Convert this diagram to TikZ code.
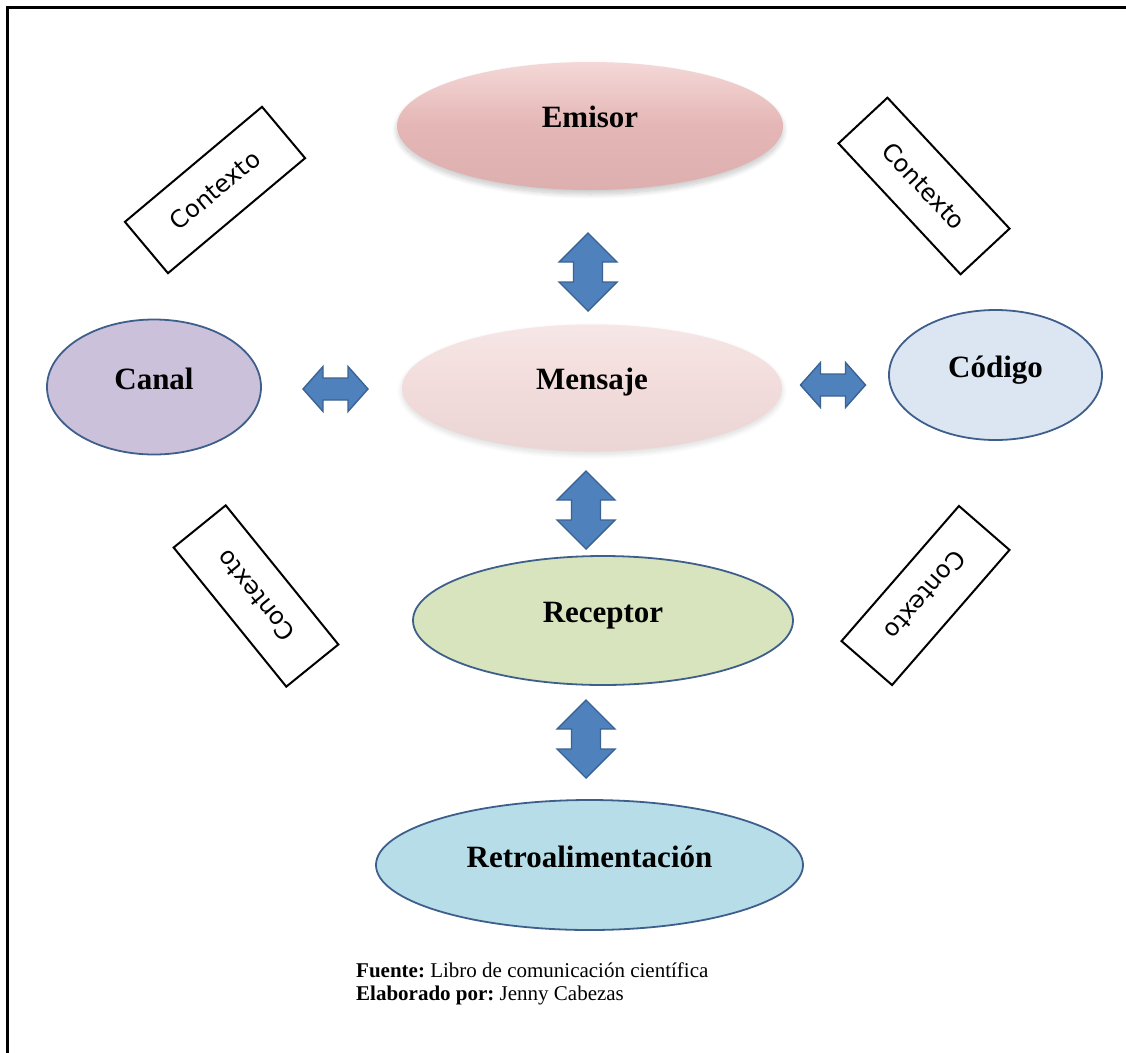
\documentclass[tikz,border=0pt]{standalone}
\usepackage{fontspec}
\setmainfont{Liberation Serif}
\newfontfamily\ctxfont{DejaVu Sans}
\usetikzlibrary{shapes.geometric,shadows.blur}
\frenchspacing

\definecolor{bordblue}{HTML}{3E5F8C}
\definecolor{arrfill}{HTML}{4F81BD}
\definecolor{arrdraw}{HTML}{3A6393}
\definecolor{emisorfill}{HTML}{E4B6B5}
\definecolor{emisortop}{HTML}{F4D8D7}
\definecolor{emisorbot}{HTML}{DDB0AF}
\definecolor{mensajefill}{HTML}{F2DCDB}
\definecolor{canalfill}{HTML}{CCC1DA}
\definecolor{codigofill}{HTML}{DCE6F2}
\definecolor{receptorfill}{HTML}{D7E4BD}
\definecolor{retrofill}{HTML}{B7DEE8}

\tikzset{
  ell/.style={ellipse, draw=bordblue, line width=1.8pt, inner sep=0pt},
  gloss/.style={ellipse, draw=none, inner sep=0pt},
  lbl/.style={anchor=base, inner sep=0pt, font=\bfseries\fontsize{31}{31}\selectfont},
  ctxbox/.style={draw=black, line width=2pt, inner sep=0pt,
    minimum width=179pt, minimum height=67pt,
    font=\ctxfont\fontsize{24}{24}\selectfont},
  blockarrow/.style={fill=arrfill, draw=arrdraw, line width=1.4pt, line join=miter},
  vdouble/.pic={
    \path[blockarrow] (0,-39) -- (29,-10) -- (14.5,-10) -- (14.5,10) -- (29,10)
      -- (0,39) -- (-29,10) -- (-14.5,10) -- (-14.5,-10) -- (-29,-10) -- cycle;
  },
  hdouble/.pic={
    \path[blockarrow] (-32.5,0) -- (-12.5,-22.5) -- (-12.5,-11) -- (12.5,-11)
      -- (12.5,-22.5) -- (32.5,0) -- (12.5,22.5) -- (12.5,11) -- (-12.5,11)
      -- (-12.5,22.5) -- cycle;
  },
  srcline/.style={anchor=base west, inner sep=0pt, font=\fontsize{21}{24}\selectfont},
}

\begin{document}
\begin{tikzpicture}[x=1pt, y=-1pt]
  \useasboundingbox (0,0) rectangle (1126,1052);

  % page frame (left and top edges)
  \draw[line width=3pt, line cap=rect] (7,1060) -- (7,7.5) -- (1130,7.5);

  % elements of the communication process
  \node[gloss, minimum width=386pt, minimum height=128pt,
        top color=emisortop, bottom color=emisorbot, middle color=emisorfill,
        blur shadow={shadow xshift=0pt, shadow yshift=-4pt, shadow opacity=22, shadow blur radius=5pt, shadow blur steps=12}]
        (emisor) at (590,126) {};
  \node[gloss, minimum width=380pt, minimum height=127pt,
        top color=mensajefill!70!white, bottom color=mensajefill!97!black, middle color=mensajefill,
        blur shadow={shadow xshift=0pt, shadow yshift=-3pt, shadow opacity=14, shadow blur radius=5pt, shadow blur steps=12}]
        (mensaje) at (592,388) {};
  \node[ell, fill=canalfill, minimum width=214pt, minimum height=135pt] (canal) at (154,387) {};
  \node[ell, fill=codigofill, minimum width=213pt, minimum height=130pt] (codigo) at (995.5,375) {};
  \node[ell, fill=receptorfill, minimum width=380pt, minimum height=129pt] (receptor) at (603,620.5) {};
  \node[ell, fill=retrofill, minimum width=427pt, minimum height=130pt] (retro) at (589.5,865) {};

  % labels, baseline on the centre line of each ellipse
  \node[lbl] (emisorlbl) at ([yshift=-1pt]emisor.center) {Emisor};
  \node[lbl] (mensajelbl) at ([yshift=-1pt]mensaje.center) {Mensaje};
  \node[lbl] (canallbl) at ([yshift=-2pt]canal.center) {Canal};
  \node[lbl] (codigolbl) at ([yshift=-2pt]codigo.center) {Código};
  \node[lbl] (receptorlbl) at ([yshift=-2pt]receptor.center) {Receptor};
  \node[lbl] (retrolbl) at ([yshift=-2pt]retro.center) {Retroalimentación};

  % two-way block arrows between the elements
  \pic (emisormensaje) at (588,272) {vdouble};
  \pic (mensajereceptor) at (586,510) {vdouble};
  \pic (receptorretro) at (586,739) {vdouble};
  \pic (canalmensaje) at (335.5,389) {hdouble};
  \pic (mensajecodigo) at (833,385) {hdouble};

  % context boxes
  \node[ctxbox, rotate=40] (ctxtl) at (215,190) {Contexto};
  \node[ctxbox, rotate=-47] (ctxtr) at (924,186) {Contexto};
  \node[ctxbox, rotate=129] (ctxbl) at (256,596) {Contexto};
  \node[ctxbox, rotate=-131] (ctxbr) at (925.5,595.5) {Contexto};

  % source note
  \node[srcline] (src1) at (356,977) {\textbf{Fuente:} Libro de comunicación científica};
  \node[srcline] (src2) at (356,1000) {\textbf{Elaborado por:} Jenny Cabezas};
\end{tikzpicture}
\end{document}
